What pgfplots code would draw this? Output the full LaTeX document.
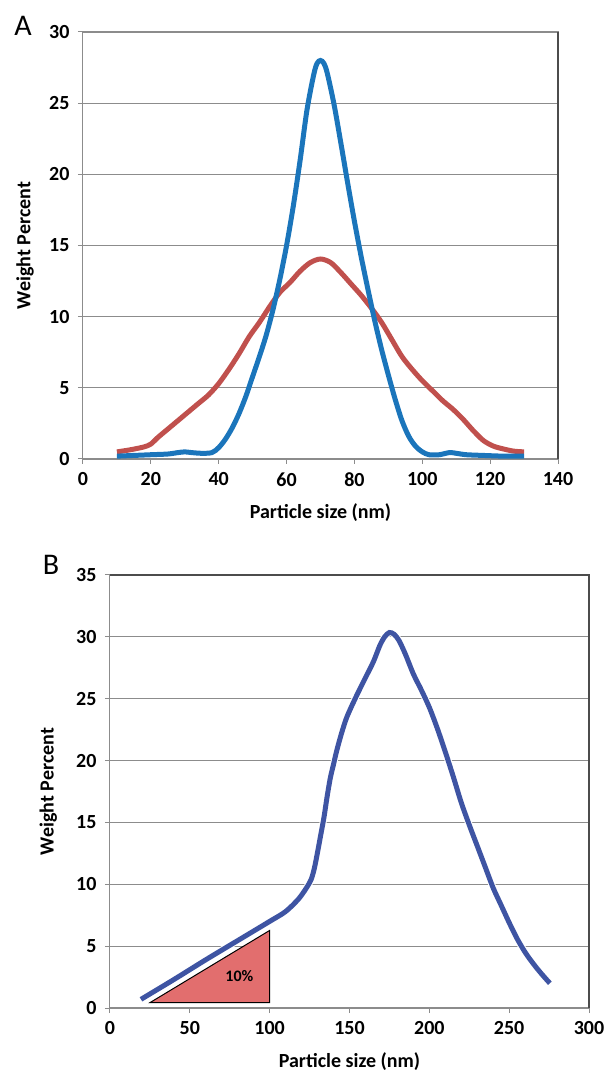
\documentclass[border=0pt]{standalone}
\usepackage{fontspec}
\setmainfont{Carlito}
\usepackage{pgfplots}
\pgfplotsset{compat=1.18}
\definecolor{ablue}{RGB}{27,117,187}
\definecolor{ared}{RGB}{192,80,77}
\definecolor{bblue}{RGB}{62,84,163}
\definecolor{tri}{RGB}{226,110,110}
\definecolor{gridc}{RGB}{140,140,140}
\pgfplotsset{
  mystyle/.style={
    scale only axis,
    axis line style={draw=gridc, line width=1pt},
    ymajorgrids,
    major grid style={draw=gridc, line width=1.2pt},
    tick align=outside, tick pos=left,
    major tick length=5pt,
    tick style={draw=gridc, line width=1pt},
    /pgf/number format/assume math mode=true,
    ticklabel style={font=\fontsize{20}{20}\selectfont\bfseries},
    xticklabel style={yshift=-5pt},
    yticklabel style={xshift=-5pt},
    label style={font=\fontsize{20}{20}\selectfont\bfseries, inner sep=0pt},
    clip=false,
  }
}
\begin{document}
\begin{tikzpicture}
\useasboundingbox (0,0) rectangle (606pt,1072pt);
% Panel A
\begin{axis}[mystyle,
  at={(83pt,613pt)}, anchor=south west,
  width=475pt, height=427pt,
  xmin=0, xmax=140, ymin=0, ymax=30,
  xtick={0,20,...,140}, ytick={0,5,...,30},
  xlabel={Particle size (nm)}, ylabel={Weight Percent},
  xlabel style={at={(axis description cs:0.5,-0.105)}, anchor=north},
  ylabel style={at={(axis description cs:-0.122,0.5)}, anchor=center},
]
\addplot[ared, line width=5pt, smooth] coordinates {
(10,0.5) (14,0.65) (18,0.85) (20,1.05) (22,1.5) (25,2.1) (28,2.7) (31,3.3) (34,3.9) (37,4.5) (40,5.3) (43,6.3) (46,7.4) (49,8.6) (52,9.6) (55,10.7) (58,11.7) (61,12.4) (64,13.2) (67,13.8) (70,14.05) (73,13.8) (76,13.1) (79,12.3) (82,11.5) (85,10.6) (88,9.6) (91,8.4) (94,7.2) (97,6.3) (100,5.5) (103,4.8) (106,4.1) (109,3.5) (112,2.8) (115,2.0) (118,1.3) (121,0.9) (124,0.7) (127,0.55) (130,0.5)
};
\addplot[ablue, line width=5pt, smooth] coordinates {
(10,0.2) (15,0.25) (20,0.3) (25,0.35) (28,0.45) (30,0.5) (32,0.45) (35,0.4) (38,0.45) (40,0.8) (42,1.4) (44,2.2) (46,3.2) (48,4.4) (50,5.8) (52,7.2) (54,8.7) (56,10.5) (58,12.6) (60,15.0) (62,17.8) (64,21.0) (66,24.5) (68,27.0) (69,27.8) (70,28.0) (71,27.8) (72,27.1) (74,24.9) (76,22.2) (78,19.4) (80,16.7) (82,14.2) (84,11.9) (86,9.7) (88,7.7) (90,5.9) (92,4.2) (94,2.7) (96,1.6) (98,0.9) (100,0.5) (102,0.3) (105,0.3) (108,0.45) (110,0.4) (113,0.3) (118,0.25) (124,0.2) (130,0.2)
};
\draw[black!70, line width=1.2pt] (rel axis cs:1,0) -- (rel axis cs:1,1);
\end{axis}
\node[font=\fontsize{30}{30}\selectfont, anchor=center, inner sep=0pt] at (23pt,1046pt) {A};
% Panel B
\begin{axis}[mystyle,
  at={(110pt,64pt)}, anchor=south west,
  width=479pt, height=433pt,
  xmin=0, xmax=300, ymin=0, ymax=35,
  xtick={0,50,...,300}, ytick={0,5,...,35},
  xlabel={Particle size (nm)}, ylabel={Weight Percent},
  xlabel style={at={(axis description cs:0.5,-0.102)}, anchor=north},
  ylabel style={at={(axis description cs:-0.129,0.5)}, anchor=center},
]
\addplot[draw=black, fill=tri, line width=1pt] coordinates {(25,0.43) (100,0.43) (100,6.27)} -- cycle;
\node[font=\fontsize{16}{16}\selectfont\bfseries] at (axis cs:81,2.6) {10\%};
\addplot[white, line width=7pt, smooth] coordinates {
(19.4,0.7) (40,2.3) (60,3.9) (80,5.45) (100,7.0) (110,7.8) (118,8.8) (123,9.7) (126,10.4) (128,11.3) (130,12.6) (132,14.0) (134,15.4) (136,17.1) (138,18.6) (140,19.7) (142,20.8) (145,22.2) (148,23.4) (151,24.3) (155,25.4) (160,26.7) (165,28.0) (169,29.3) (172,30.0) (175,30.35) (178,30.2) (181,29.7) (185,28.6) (190,27.0) (195,25.7) (200,24.3) (205,22.6) (210,20.7) (215,18.7) (220,16.6) (225,14.8) (230,13.1) (235,11.4) (240,9.7) (245,8.3) (250,6.9) (255,5.6) (260,4.5) (265,3.6) (270,2.8) (275.5,2.0)
};
\addplot[bblue, line width=5pt, smooth] coordinates {
(19.4,0.7) (40,2.3) (60,3.9) (80,5.45) (100,7.0) (110,7.8) (118,8.8) (123,9.7) (126,10.4) (128,11.3) (130,12.6) (132,14.0) (134,15.4) (136,17.1) (138,18.6) (140,19.7) (142,20.8) (145,22.2) (148,23.4) (151,24.3) (155,25.4) (160,26.7) (165,28.0) (169,29.3) (172,30.0) (175,30.35) (178,30.2) (181,29.7) (185,28.6) (190,27.0) (195,25.7) (200,24.3) (205,22.6) (210,20.7) (215,18.7) (220,16.6) (225,14.8) (230,13.1) (235,11.4) (240,9.7) (245,8.3) (250,6.9) (255,5.6) (260,4.5) (265,3.6) (270,2.8) (275.5,2.0)
};
\draw[black!70, line width=1.2pt] (rel axis cs:0,1) -- (rel axis cs:1,1) -- (rel axis cs:1,0);
\end{axis}
\node[font=\fontsize{30}{30}\selectfont, anchor=center, inner sep=0pt] at (51pt,507pt) {B};
\end{tikzpicture}
\end{document}
